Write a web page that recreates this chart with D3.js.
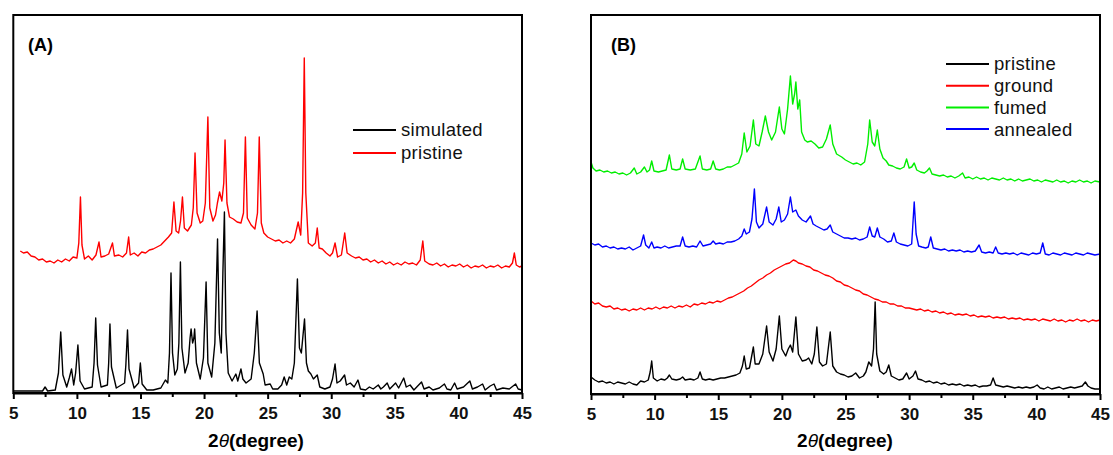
<!DOCTYPE html>
<meta charset="utf-8">
<script src="https://d3js.org/d3.v7.min.js"></script>
<style>
    body { margin: 0; background: #fff; }
    .tick text { font-family: Arial, 'Liberation Sans', sans-serif; font-weight: bold; font-size: 17px; }
    .lbl { font-family: Arial, 'Liberation Sans', sans-serif; }
</style>
<div id="chart"></div>
<script>
// x axis ticks (2theta, degree)
const xTicks = [5, 10, 15, 20, 25, 30, 35, 40, 45];
const xMinor = [7.5, 12.5, 17.5, 22.5, 27.5, 32.5, 37.5, 42.5];

// panel A: [2theta, intensity a.u.]
const simulatedA = [[5.0,2],[6.0,2],[7.3,2],[7.5,6],[7.7,2],[8.3,3],[8.55,20],[8.73,61],[8.9,18],[9.2,6],[9.4,15],[9.58,24],[9.75,8],[9.9,20],[10.08,48],[10.25,12],[10.6,4],[11.2,6],[11.35,30],[11.48,75],[11.62,28],[11.9,6],[12.4,8],[12.5,30],[12.6,69],[12.72,26],[13.1,5],[13.75,10],[13.85,28],[13.98,63],[14.1,24],[14.5,5],[14.85,10],[14.99,30],[15.13,9],[15.5,3],[16.0,3],[16.6,5],[16.96,13],[17.15,10],[17.28,40],[17.4,120],[17.52,40],[17.7,18],[17.9,24],[18.02,50],[18.14,131],[18.26,45],[18.5,20],[18.75,30],[18.9,55],[18.98,64],[19.1,50],[19.2,55],[19.26,64],[19.4,30],[19.7,14],[19.95,35],[20.16,111],[20.3,30],[20.6,16],[20.85,50],[21.06,154],[21.2,60],[21.35,40],[21.48,120],[21.6,181],[21.72,60],[21.9,20],[22.2,12],[22.5,19],[22.65,12],[22.9,24],[23.05,14],[23.3,10],[23.7,14],[23.95,40],[24.17,82],[24.35,30],[24.65,19],[24.8,8],[25.2,9],[25.4,4],[25.8,4],[26.1,8],[26.3,16],[26.5,8],[26.7,16],[26.9,14],[27.1,30],[27.34,114],[27.5,45],[27.65,40],[27.9,74],[28.05,30],[28.2,22],[28.4,19],[28.6,14],[28.9,18],[29.1,6],[29.5,4],[29.9,6],[30.1,14],[30.3,29],[30.45,10],[30.7,12],[31.05,18],[31.2,8],[31.5,10],[31.8,6],[32.1,13],[32.3,4],[32.7,3],[33.0,6],[33.3,4],[33.7,8],[33.9,4],[34.1,6],[34.4,10],[34.6,4],[35.06,10],[35.3,5],[35.7,15],[35.9,6],[36.2,8],[36.5,3],[37.1,11],[37.3,4],[37.7,6],[38.0,3],[38.5,5],[38.9,9],[39.1,4],[39.4,3],[39.7,10],[39.9,4],[40.4,6],[40.9,12],[41.1,4],[41.5,6],[41.9,9],[42.1,3],[42.5,7],[42.8,9],[43.0,3],[43.5,5],[44.0,4],[44.5,9],[44.7,4],[45.0,3]];

const pristineA = [[5.55,142],[5.8,140],[6.1,141],[6.4,137],[6.7,136],[7.0,133],[7.3,134],[7.6,131],[7.9,132],[8.2,130],[8.5,133],[8.8,131],[9.1,134],[9.4,132],[9.7,136],[10.0,135],[10.15,150],[10.28,196],[10.4,148],[10.6,134],[10.9,137],[11.2,133],[11.5,138],[11.74,151],[11.9,136],[12.2,137],[12.5,139],[12.8,150],[12.95,137],[13.3,138],[13.6,136],[13.9,140],[14.07,156],[14.2,138],[14.5,140],[14.8,137],[15.1,141],[15.4,140],[15.7,143],[16.0,144],[16.3,146],[16.6,148],[16.9,152],[17.2,156],[17.45,160],[17.63,191],[17.8,162],[18.0,160],[18.15,172],[18.3,196],[18.45,165],[18.7,162],[19.0,168],[19.15,185],[19.29,240],[19.45,180],[19.7,170],[19.9,172],[20.1,190],[20.3,276],[20.45,185],[20.7,172],[20.9,178],[21.05,190],[21.22,201],[21.4,192],[21.55,210],[21.65,253],[21.8,190],[22.0,176],[22.3,174],[22.6,171],[22.9,170],[23.1,180],[23.25,256],[23.4,175],[23.7,168],[24.0,164],[24.2,180],[24.34,256],[24.5,170],[24.7,160],[25.0,156],[25.3,154],[25.6,152],[25.9,153],[26.2,150],[26.5,152],[26.8,150],[27.1,154],[27.4,171],[27.6,158],[27.75,200],[27.88,335],[28.0,200],[28.2,150],[28.5,147],[28.75,150],[28.9,165],[29.05,145],[29.3,144],[29.6,140],[29.9,137],[30.1,140],[30.3,150],[30.5,136],[30.8,138],[31.06,160],[31.25,140],[31.6,137],[31.9,135],[32.2,136],[32.5,133],[32.8,134],[33.1,131],[33.4,133],[33.7,130],[34.0,132],[34.3,129],[34.6,131],[34.9,128],[35.2,130],[35.5,128],[35.8,131],[36.1,129],[36.4,130],[36.7,128],[37.0,133],[37.2,152],[37.35,132],[37.7,129],[38.0,128],[38.3,130],[38.6,127],[38.9,129],[39.2,126],[39.5,128],[39.8,127],[40.1,129],[40.4,126],[40.7,128],[41.0,125],[41.3,127],[41.6,126],[41.9,128],[42.2,125],[42.5,127],[42.8,126],[43.1,128],[43.4,125],[43.7,127],[44.0,126],[44.25,130],[44.4,140],[44.55,128],[44.8,126],[45.0,127]];

// panel B
const pristineB = [[5.0,17],[5.3,14],[5.6,12],[5.9,13],[6.2,11],[6.5,12],[6.8,10],[7.1,12],[7.4,11],[7.7,10],[8.0,12],[8.3,10],[8.6,9],[8.9,13],[9.2,12],[9.5,14],[9.65,22],[9.77,33],[9.9,16],[10.2,13],[10.5,15],[10.8,14],[11.0,16],[11.16,19],[11.35,15],[11.7,14],[12.0,15],[12.2,17],[12.4,14],[12.8,15],[13.1,14],[13.4,16],[13.57,22],[13.75,15],[14.0,14],[14.3,15],[14.6,14],[14.9,15],[15.2,16],[15.5,16],[15.8,17],[16.1,18],[16.4,19],[16.7,21],[16.9,28],[17.04,38],[17.2,25],[17.45,26],[17.6,36],[17.76,47],[17.9,30],[18.2,30],[18.5,40],[18.8,68],[19.0,42],[19.3,33],[19.55,45],[19.8,78],[20.0,45],[20.3,38],[20.5,45],[20.67,49],[20.85,42],[21.1,77],[21.3,40],[21.6,33],[21.9,34],[22.1,36],[22.35,30],[22.55,40],[22.75,67],[22.95,32],[23.2,28],[23.5,30],[23.8,62],[24.0,28],[24.3,22],[24.6,20],[24.9,19],[25.2,17],[25.5,18],[25.8,21],[26.1,16],[26.4,18],[26.6,22],[26.83,32],[27.05,28],[27.2,45],[27.33,92],[27.45,40],[27.7,23],[28.0,20],[28.2,22],[28.4,29],[28.6,18],[28.9,16],[29.2,14],[29.5,15],[29.8,21],[30.0,15],[30.3,18],[30.5,23],[30.7,15],[31.0,14],[31.3,12],[31.6,13],[31.9,11],[32.2,12],[32.5,10],[32.8,11],[33.1,9],[33.4,10],[33.7,9],[34.0,10],[34.3,8],[34.6,9],[34.9,8],[35.2,9],[35.5,7],[35.8,8],[36.1,8],[36.4,9],[36.6,16],[36.8,9],[37.1,8],[37.4,7],[37.7,8],[38.0,7],[38.3,6],[38.6,7],[38.9,6],[39.2,7],[39.5,6],[39.8,7],[40.06,9],[40.3,6],[40.6,5],[40.9,7],[41.2,5],[41.5,6],[41.8,7],[42.1,5],[42.4,6],[42.7,7],[43.0,6],[43.3,7],[43.6,8],[43.85,12],[44.05,8],[44.3,6],[44.6,5],[45.0,5]];

const groundB = [[5.0,93],[5.3,90],[5.6,91],[5.9,88],[6.2,87],[6.5,88],[6.8,85],[7.1,86],[7.4,84],[7.7,85],[8.0,83],[8.3,85],[8.6,84],[8.9,86],[9.2,84],[9.5,86],[9.8,85],[10.1,87],[10.4,85],[10.7,87],[11.0,86],[11.3,88],[11.6,86],[11.9,88],[12.2,87],[12.5,89],[12.8,87],[13.1,90],[13.4,89],[13.7,91],[14.0,90],[14.3,92],[14.6,91],[14.9,93],[15.2,92],[15.5,94],[15.8,96],[16.1,97],[16.4,99],[16.7,101],[17.0,103],[17.3,106],[17.6,108],[17.9,111],[18.2,114],[18.5,116],[18.8,119],[19.1,121],[19.4,124],[19.7,126],[20.0,128],[20.3,130],[20.6,131],[20.9,134],[21.1,133],[21.3,131],[21.6,130],[21.9,128],[22.2,127],[22.5,124],[22.8,123],[23.1,121],[23.4,119],[23.7,118],[24.0,116],[24.3,113],[24.6,112],[24.9,109],[25.2,108],[25.5,106],[25.8,104],[26.1,103],[26.4,100],[26.7,99],[27.0,97],[27.3,95],[27.6,94],[27.9,92],[28.2,92],[28.5,90],[28.8,90],[29.1,88],[29.4,88],[29.7,86],[30.0,86],[30.3,85],[30.6,84],[30.9,85],[31.2,83],[31.5,84],[31.8,82],[32.1,83],[32.4,81],[32.7,82],[33.0,80],[33.3,81],[33.6,79],[33.9,80],[34.2,79],[34.5,80],[34.8,78],[35.1,79],[35.4,77],[35.7,78],[36.0,77],[36.3,78],[36.6,76],[36.9,77],[37.2,76],[37.5,77],[37.8,75],[38.1,76],[38.4,75],[38.7,76],[39.0,74],[39.3,75],[39.6,74],[39.9,75],[40.2,73],[40.5,75],[40.8,74],[41.1,73],[41.4,75],[41.7,73],[42.0,74],[42.3,72],[42.6,74],[42.9,73],[43.2,75],[43.5,73],[43.8,74],[44.1,72],[44.4,74],[44.7,73],[45.0,74]];

const fumedB = [[5.0,232],[5.15,226],[5.4,223],[5.7,224],[6.0,222],[6.3,223],[6.6,221],[6.9,222],[7.2,220],[7.5,221],[7.8,219],[8.1,221],[8.4,226],[8.6,220],[8.9,222],[9.2,227],[9.4,222],[9.6,224],[9.77,233],[9.95,223],[10.3,222],[10.6,223],[10.9,224],[11.16,239],[11.35,225],[11.7,224],[12.0,225],[12.2,235],[12.4,225],[12.8,224],[13.2,225],[13.57,238],[13.75,225],[14.1,224],[14.4,225],[14.6,233],[14.8,225],[15.1,224],[15.4,225],[15.7,227],[16.0,227],[16.3,229],[16.6,231],[16.85,240],[17.04,261],[17.25,242],[17.5,248],[17.76,274],[17.95,250],[18.2,248],[18.45,262],[18.7,278],[18.95,262],[19.2,254],[19.5,262],[19.8,287],[20.0,265],[20.2,260],[20.45,285],[20.67,318],[20.85,290],[21.0,300],[21.1,312],[21.25,285],[21.4,294],[21.55,262],[21.8,254],[22.0,252],[22.3,253],[22.6,250],[22.9,246],[23.2,247],[23.5,255],[23.8,269],[24.0,250],[24.3,240],[24.7,237],[25.0,234],[25.3,232],[25.6,230],[25.9,231],[26.2,229],[26.5,232],[26.75,250],[26.9,274],[27.1,252],[27.3,248],[27.5,264],[27.7,245],[27.95,236],[28.2,233],[28.4,229],[28.7,228],[29.0,226],[29.3,225],[29.6,227],[29.8,235],[30.0,226],[30.2,227],[30.4,231],[30.6,224],[30.9,222],[31.2,221],[31.4,223],[31.6,226],[31.8,220],[32.1,219],[32.4,218],[32.7,219],[33.0,217],[33.3,218],[33.6,216],[33.9,218],[34.2,221],[34.4,216],[34.7,217],[35.0,215],[35.3,217],[35.6,215],[35.9,216],[36.2,214],[36.5,216],[36.8,215],[37.1,214],[37.4,216],[37.7,214],[38.0,215],[38.3,213],[38.6,215],[38.9,213],[39.2,214],[39.5,215],[39.8,213],[40.1,214],[40.4,212],[40.7,214],[41.0,213],[41.3,212],[41.6,214],[41.9,212],[42.2,213],[42.5,211],[42.8,213],[43.1,212],[43.4,214],[43.7,212],[44.0,213],[44.3,211],[44.6,213],[45.0,212]];

const annealedB = [[5.0,151],[5.3,149],[5.6,150],[5.9,147],[6.2,148],[6.5,146],[6.8,147],[7.1,145],[7.4,146],[7.7,145],[8.0,147],[8.3,144],[8.6,146],[8.9,148],[9.13,159],[9.3,149],[9.55,146],[9.77,152],[9.95,146],[10.2,147],[10.5,146],[10.8,148],[11.1,146],[11.4,147],[11.7,148],[12.0,148],[12.2,157],[12.4,148],[12.7,147],[13.0,148],[13.3,147],[13.57,153],[13.8,148],[14.1,149],[14.4,150],[14.6,153],[14.8,150],[15.1,151],[15.4,150],[15.7,152],[16.0,152],[16.3,153],[16.6,155],[16.85,158],[17.04,165],[17.2,160],[17.45,162],[17.65,175],[17.84,205],[18.0,172],[18.2,166],[18.5,170],[18.8,187],[19.0,172],[19.3,169],[19.55,175],[19.76,187],[19.95,172],[20.2,174],[20.45,180],[20.67,197],[20.85,182],[21.1,184],[21.3,178],[21.6,174],[21.9,172],[22.25,178],[22.45,170],[22.7,168],[23.0,166],[23.3,164],[23.55,165],[23.8,169],[24.0,162],[24.3,160],[24.6,158],[24.9,156],[25.2,156],[25.5,155],[25.8,156],[26.1,154],[26.4,155],[26.7,157],[26.9,167],[27.1,158],[27.3,157],[27.5,166],[27.7,157],[28.0,155],[28.3,152],[28.6,153],[28.8,161],[29.0,152],[29.3,150],[29.6,149],[29.9,148],[30.2,150],[30.4,192],[30.55,160],[30.75,148],[31.0,147],[31.3,146],[31.5,147],[31.7,157],[31.9,146],[32.2,145],[32.5,144],[32.8,145],[33.1,143],[33.4,144],[33.7,143],[34.0,144],[34.3,142],[34.6,143],[34.9,142],[35.2,143],[35.5,149],[35.7,142],[36.0,141],[36.3,142],[36.6,141],[36.8,147],[37.0,141],[37.3,140],[37.6,141],[37.9,140],[38.2,141],[38.5,139],[38.8,141],[39.1,140],[39.4,139],[39.7,141],[40.0,140],[40.3,141],[40.5,151],[40.7,140],[41.0,139],[41.3,141],[41.6,140],[41.9,139],[42.2,141],[42.5,140],[42.8,139],[43.1,141],[43.4,140],[43.7,139],[44.0,141],[44.3,140],[44.6,139],[45.0,140]];

const svg = d3.select("#chart").append("svg")
    .attr("width", 1113)
    .attr("height", 455);

function drawPanel(p) {
    let x = d3.scaleLinear().domain([5, 45]).range([p.left, p.right]);
    let y = d3.scaleLinear().domain([0, p.bottom - p.top]).range([p.bottom, p.top]);

    let g = svg.append("g");

    // traces
    let line = d3.line().x(d => x(d[0])).y(d => y(d[1]));
    p.series.forEach(function (s) {
        g.append("path")
            .datum(s.data)
            .attr("fill", "none")
            .attr("stroke", s.color)
            .attr("stroke-width", 1.4)
            .attr("stroke-linejoin", "round")
            .attr("d", line);
    });

    // frame
    g.append("rect")
        .attr("x", p.left).attr("y", p.top)
        .attr("width", p.right - p.left).attr("height", p.bottom - p.top)
        .attr("fill", "none").attr("stroke", "#000").attr("stroke-width", 2);

    // minor ticks
    g.append("g")
        .attr("transform", "translate(0," + p.bottom + ")")
        .call(d3.axisBottom(x).tickValues(xMinor).tickSize(4).tickSizeOuter(0).tickFormat(""))
        .call(a => a.select(".domain").remove())
        .selectAll("line").attr("stroke-width", 2);

    // major ticks
    let ax = g.append("g")
        .attr("transform", "translate(0," + p.bottom + ")")
        .call(d3.axisBottom(x).tickValues(xTicks).tickSize(6).tickSizeOuter(0).tickPadding(8).tickFormat(d3.format("d")));
    ax.select(".domain").attr("stroke-width", 2);
    ax.selectAll("line").attr("stroke-width", 2);
    ax.selectAll("text").attr("fill", "#111");

    // axis title
    let t = g.append("text")
        .attr("class", "lbl")
        .attr("x", p.titleX).attr("y", 447)
        .attr("text-anchor", "middle")
        .style("font-size", "19px").style("font-weight", "bold");
    t.append("tspan").text("2");
    t.append("tspan").style("font-style", "italic").style("font-weight", "normal").text("θ");
    t.append("tspan").text("(degree)");

    // panel tag
    g.append("text")
        .attr("class", "lbl")
        .attr("x", p.tagX).attr("y", 51)
        .style("font-size", "18px").style("font-weight", "bold")
        .text(p.tag);

    // legend
    p.series.forEach(function (s, i) {
        let ly = p.legendY + i * p.legendGap;
        g.append("line")
            .attr("x1", p.legendX).attr("x2", p.legendX + 43)
            .attr("y1", ly).attr("y2", ly)
            .attr("stroke", s.color).attr("stroke-width", 2);
        g.append("text")
            .attr("class", "lbl")
            .attr("x", p.legendX + 48).attr("y", ly)
            .attr("dy", "0.35em")
            .style("font-size", "18.5px")
            .style("letter-spacing", "0.3px")
            .attr("fill", "#111")
            .text(s.name);
    });
}

drawPanel({
    left: 13.3, right: 522, top: 15, bottom: 393,
    tag: "(A)", tagX: 28, titleX: 256,
    legendX: 353, legendY: 130, legendGap: 23,
    series: [
        {name: "simulated", color: "#000000", data: simulatedA},
        {name: "pristine", color: "#ff0000", data: pristineA}
    ]
});

drawPanel({
    left: 591, right: 1100, top: 15, bottom: 394,
    tag: "(B)", tagX: 611, titleX: 845,
    legendX: 946, legendY: 64, legendGap: 21.7,
    series: [
        {name: "pristine", color: "#000000", data: pristineB},
        {name: "ground", color: "#ff0000", data: groundB},
        {name: "fumed", color: "#00ee00", data: fumedB},
        {name: "annealed", color: "#0000ff", data: annealedB}
    ]
});
</script>
